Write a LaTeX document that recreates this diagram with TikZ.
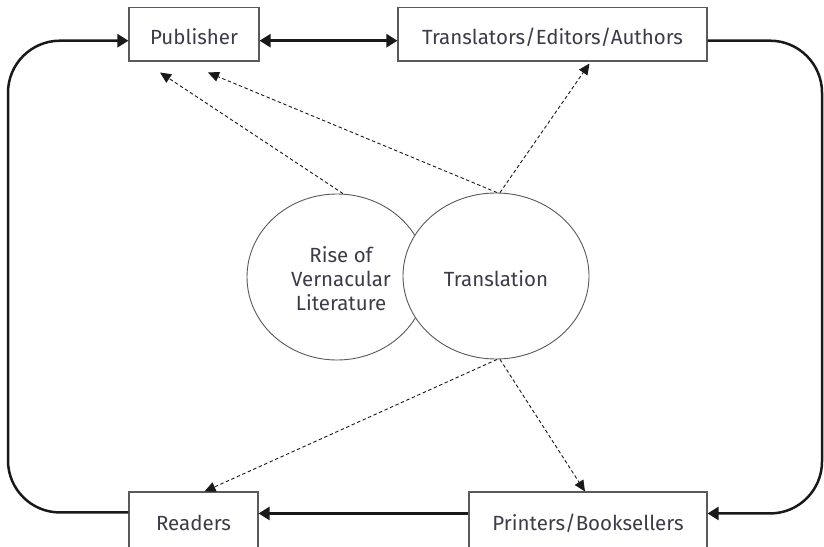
\documentclass[tikz,border=0pt]{standalone}
\usepackage{fontspec}
\setmainfont{Fira Sans}
\usetikzlibrary{arrows.meta,shapes.geometric}
\definecolor{txt}{RGB}{60,60,72}
\definecolor{boxline}{RGB}{90,90,90}
\definecolor{ink}{RGB}{25,25,25}
\begin{document}
\begin{tikzpicture}[x=1pt,y=-1pt,
  font=\fontsize{20.5}{24}\selectfont,
  box/.style={draw=boxline, line width=1.1pt, fill=white, text=txt, inner sep=0pt, align=center, text height=20pt, text depth=0pt},
  lowbox/.style={box, text height=16pt},
  circ/.style={ellipse, draw=boxline, line width=0.9pt, fill=white, text=txt, inner sep=0pt, align=center},
  loopline/.style={draw=ink, line width=2.5pt},
  bigtip/.style={-{Triangle[length=11pt,width=13pt]}},
  dashline/.style={draw=ink, line width=0.9pt, dash pattern=on 3.5pt off 2.5pt, -{Triangle[length=11pt,width=10pt]}}
]
\useasboundingbox (0,0) rectangle (824,546);
\clip (0,0) rectangle (824,546);

% boxes
\node[box, minimum width=130pt, minimum height=53.5pt] (pub) at (194,34.2) {Publisher};
\node[box, minimum width=309pt, minimum height=53.5pt] (tea) at (552.5,34.2) {Translators/Editors/Authors};
\node[lowbox, minimum width=129pt, minimum height=60pt] (rea) at (193.5,522) {Readers};
\node[lowbox, minimum width=238pt, minimum height=60pt] (pri) at (588,522) {Printers/Booksellers};

% ellipses
\node[circ, minimum width=180pt, minimum height=166pt] (rise) at (337,277) {};
\node[text=txt, align=center] (risetext) at (341,279) {Rise of\\Vernacular\\Literature};
\node[circ, minimum width=186pt, minimum height=166pt, text height=20pt, text depth=0pt] (trans) at (496,276) {Translation};

% loop lines
\coordinate (lc) at (8,300);
\coordinate (rc) at (822,300);
\draw[loopline, bigtip, rounded corners=52pt]
  ([yshift=-21pt]rea.north west) -| (lc) |- ([yshift=-6.5pt]pub.west);
\draw[loopline, bigtip, rounded corners=52pt]
  ([yshift=-6.5pt]tea.east) -| (rc) |- ([yshift=-22pt]pri.north east);
\draw[loopline, {Triangle[length=11pt,width=13pt]}-{Triangle[length=11pt,width=13pt]}]
  ([yshift=-6.5pt]pub.east) -- ([yshift=-6.5pt]tea.west);
\draw[loopline, bigtip]
  ([yshift=-22pt]pri.north west) -- ([yshift=-22pt]rea.north east);

% dashed arrows
\draw[dashline] ([xshift=6pt]rise.north) -- ([xshift=-34pt,yshift=-11pt]pub.south);
\draw[dashline] ([xshift=1pt]trans.north) -- ([xshift=14pt,yshift=-11pt]pub.south);
\draw[dashline] ([xshift=4pt]trans.north) -- ([xshift=37pt,yshift=-2pt]tea.south);
\draw[dashline] ([xshift=1pt]trans.south) -- ([xshift=11pt]rea.north);
\draw[dashline] ([xshift=4pt]trans.south) -- ([xshift=-3pt]pri.north);
\end{tikzpicture}
\end{document}
